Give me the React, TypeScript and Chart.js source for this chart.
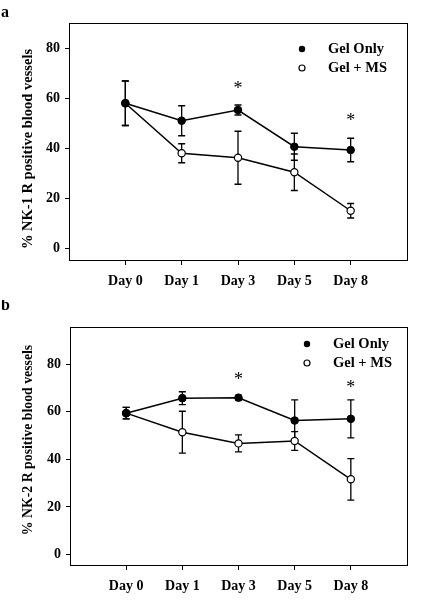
import React, { useEffect, useRef } from "react";
import { Chart, registerables } from "chart.js";

Chart.register(...registerables);

// ---- data ----
const days = ["Day 0", "Day 1", "Day 3", "Day 5", "Day 8"];
const yTickValues = [0, 20, 40, 60, 80];
const seriesNames = ["Gel Only", "Gel + MS"];

// Panel a: % NK-1 R positive blood vessels
const nk1GelOnly = [57.9, 50.9, 55.2, 40.5, 39.2];
const nk1GelOnlyErr = [8.9, 6.0, 2.0, 5.4, 4.7];
const nk1GelMS = [57.9, 37.9, 36.1, 30.3, 14.9];
const nk1GelMSErr = [8.9, 3.8, 10.6, 7.3, 2.9];
const nk1StarY: (number | null)[] = [null, null, 65.6, null, 52.5];

// Panel b: % NK-2 R positive blood vessels
const nk2GelOnly = [59.4, 65.7, 65.9, 56.3, 57.0];
const nk2GelOnlyErr = [2.4, 2.7, 1.0, 8.7, 8.0];
const nk2GelMS = [59.4, 51.4, 46.7, 47.7, 31.6];
const nk2GelMSErr = [2.4, 8.8, 3.6, 3.9, 8.7];
const nk2StarY: (number | null)[] = [null, null, 75.2, null, 72.0];

const FONT = "'Liberation Serif', 'Times New Roman', serif";
const W = 432;
const H = 300;

type Panel = {
  letter: string;
  title: string;
  gel: number[];
  gelErr: number[];
  ms: number[];
  msErr: number[];
  stars: (number | null)[];
  yMin: number;
  yMax: number;
  area: { left: number; top: number; right: number; bottom: number };
  legend: { markerX: number; textX: number; y1: number; y2: number };
  titleX: number;
  titleY: number;
  titleSize: number;
  letterY: number;
};

const panels: Panel[] = [
  {
    letter: "a",
    title: "% NK-1 R positive blood vessels",
    gel: nk1GelOnly,
    gelErr: nk1GelOnlyErr,
    ms: nk1GelMS,
    msErr: nk1GelMSErr,
    stars: nk1StarY,
    yMin: -4.8,
    yMax: 90,
    area: { left: 69, top: 23, right: 407, bottom: 260 },
    legend: { markerX: 302, textX: 328, y1: 49, y2: 68 },
    titleX: 28,
    titleY: 149,
    titleSize: 14.5,
    letterY: 17,
  },
  {
    letter: "b",
    title: "% NK-2 R positive blood vessels",
    gel: nk2GelOnly,
    gelErr: nk2GelOnlyErr,
    ms: nk2GelMS,
    msErr: nk2GelMSErr,
    stars: nk2StarY,
    yMin: -4.4,
    yMax: 95.6,
    area: { left: 70, top: 27, right: 407, bottom: 265 },
    legend: { markerX: 307, textX: 333, y1: 44, y2: 63 },
    titleX: 28,
    titleY: 140,
    titleSize: 13.8,
    letterY: 10,
  },
];

function makeChart(canvas: HTMLCanvasElement, p: Panel) {
  const toPts = (arr: number[]) => arr.map((v, i) => ({ x: i, y: v }));
  const errs = [p.gelErr, p.msErr];

  const decor = {
    id: "decor",
    beforeDatasetsDraw(chart: any) {
      const { ctx, scales } = chart;
      const x = scales.x;
      const y = scales.y;
      ctx.save();
      ctx.strokeStyle = "#000";
      ctx.lineWidth = 1.3;
      chart.data.datasets.forEach((ds: any, di: number) => {
        ds.data.forEach((pt: any, i: number) => {
          const e = errs[di][i];
          const px = x.getPixelForValue(pt.x);
          const yt = y.getPixelForValue(pt.y + e);
          const yb = y.getPixelForValue(pt.y - e);
          ctx.beginPath();
          ctx.moveTo(px, yt);
          ctx.lineTo(px, yb);
          ctx.moveTo(px - 3.5, yt);
          ctx.lineTo(px + 3.5, yt);
          ctx.moveTo(px - 3.5, yb);
          ctx.lineTo(px + 3.5, yb);
          ctx.stroke();
        });
      });
      ctx.restore();
    },
    afterDraw(chart: any) {
      const { ctx, chartArea, scales } = chart;
      const x = scales.x;
      const y = scales.y;
      ctx.save();
      // frame
      ctx.strokeStyle = "#000";
      ctx.lineWidth = 1;
      ctx.strokeRect(
        Math.round(chartArea.left) + 0.5,
        Math.round(chartArea.top) + 0.5,
        Math.round(chartArea.right - chartArea.left),
        Math.round(chartArea.bottom - chartArea.top)
      );
      // asterisks
      ctx.fillStyle = "#000";
      ctx.font = `18px ${FONT}`;
      ctx.textAlign = "center";
      ctx.textBaseline = "alphabetic";
      const m = ctx.measureText("*");
      const asc = m.actualBoundingBoxAscent;
      const desc = m.actualBoundingBoxDescent;
      p.stars.forEach((sv, i) => {
        if (sv == null) return;
        const px = x.getPixelForValue(i);
        const py = y.getPixelForValue(sv);
        ctx.fillText("*", px, py + (asc - desc) / 2);
      });
      // legend
      const lg = p.legend;
      ctx.lineWidth = 1.2;
      ctx.beginPath();
      ctx.arc(lg.markerX, lg.y1, 3.2, 0, Math.PI * 2);
      ctx.fillStyle = "#000";
      ctx.fill();
      ctx.beginPath();
      ctx.arc(lg.markerX, lg.y2, 3.0, 0, Math.PI * 2);
      ctx.fillStyle = "#fff";
      ctx.fill();
      ctx.stroke();
      ctx.fillStyle = "#000";
      ctx.font = `bold 14.5px ${FONT}`;
      ctx.textAlign = "left";
      ctx.textBaseline = "middle";
      ctx.fillText(seriesNames[0], lg.textX, lg.y1);
      ctx.fillText(seriesNames[1], lg.textX, lg.y2);
      // panel letter
      ctx.font = `bold 16px ${FONT}`;
      ctx.textBaseline = "alphabetic";
      ctx.fillText(p.letter, 1, p.letterY);
      // y title
      ctx.translate(p.titleX, p.titleY);
      ctx.rotate(-Math.PI / 2);
      ctx.textAlign = "center";
      ctx.textBaseline = "middle";
      ctx.font = `bold ${p.titleSize}px ${FONT}`;
      ctx.fillText(p.title, 0, 0);
      ctx.restore();
    },
  };

  const tickFont = { family: FONT, size: 14, weight: "bold" as const };

  return new Chart(canvas, {
    type: "line",
    data: {
      datasets: [
        {
          label: seriesNames[0],
          data: toPts(p.gel),
          borderColor: "#000",
          borderWidth: 1.5,
          pointRadius: 3.8,
          pointBackgroundColor: "#000",
          pointBorderColor: "#000",
          pointBorderWidth: 1,
          tension: 0,
        },
        {
          label: seriesNames[1],
          data: toPts(p.ms),
          borderColor: "#000",
          borderWidth: 1.5,
          pointRadius: 3.6,
          pointBackgroundColor: "#fff",
          pointBorderColor: "#000",
          pointBorderWidth: 1.2,
          tension: 0,
        },
      ],
    },
    options: {
      animation: false,
      responsive: false,
      events: [],
      layout: {
        padding: { top: p.area.top, right: W - p.area.right, left: 0, bottom: 0 },
      },
      plugins: {
        legend: { display: false },
        tooltip: { enabled: false },
        title: { display: false },
      },
      scales: {
        x: {
          type: "linear",
          min: -1,
          max: 5,
          afterBuildTicks: (s: any) => {
            s.ticks = days.map((_, i) => ({ value: i }));
          },
          afterFit: (s: any) => {
            s.height = H - p.area.bottom;
          },
          ticks: {
            callback: (v: any) => days[v as number] ?? "",
            font: tickFont,
            color: "#000",
            padding: 8,
            maxRotation: 0,
            autoSkip: false,
          },
          grid: {
            drawOnChartArea: false,
            drawTicks: true,
            tickLength: 5,
            color: "#000",
            lineWidth: 1,
          },
          border: { display: false },
        },
        y: {
          type: "linear",
          min: p.yMin,
          max: p.yMax,
          afterBuildTicks: (s: any) => {
            s.ticks = yTickValues.map((v) => ({ value: v }));
          },
          afterFit: (s: any) => {
            s.width = p.area.left;
          },
          ticks: {
            font: tickFont,
            color: "#000",
            padding: 5,
          },
          grid: {
            drawOnChartArea: false,
            drawTicks: true,
            tickLength: 4,
            color: "#000",
            lineWidth: 1,
          },
          border: { display: false },
        },
      },
    },
    plugins: [decor],
  } as any);
}

function PanelChart({ panel }: { panel: Panel }) {
  const ref = useRef<HTMLCanvasElement | null>(null);
  useEffect(() => {
    if (!ref.current) return;
    const chart = makeChart(ref.current, panel);
    return () => chart.destroy();
  }, [panel]);
  return <canvas ref={ref} width={W} height={H} style={{ display: "block", width: W, height: H }} />;
}

export default function App() {
  return (
    <div style={{ position: "absolute", left: 0, top: 0, width: W, height: 600, background: "#fff" }}>
      {panels.map((p) => (
        <PanelChart key={p.letter} panel={p} />
      ))}
    </div>
  );
}
